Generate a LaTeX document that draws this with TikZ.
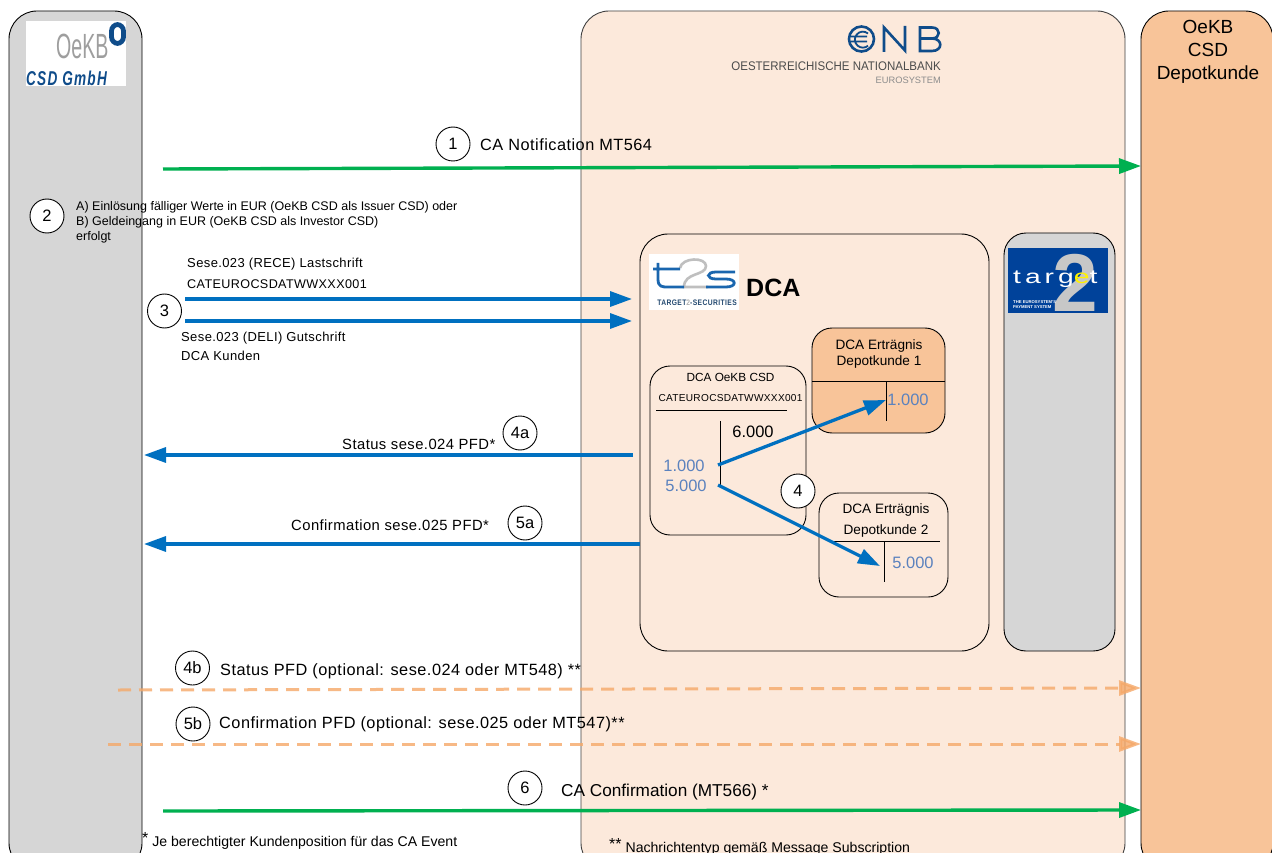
\documentclass[tikz,border=0pt]{standalone}
\usepackage{fontspec}
\setmainfont{Liberation Sans}
\newfontfamily\spaced[LetterSpace=3]{Liberation Sans}
\usetikzlibrary{arrows.meta}
\definecolor{panelgrey}{HTML}{D6D6D6}
\definecolor{panelpeach}{HTML}{FCE9DB}
\definecolor{panelorange}{HTML}{F8C499}
\definecolor{flowgreen}{HTML}{00B050}
\definecolor{flowblue}{HTML}{0070C0}
\definecolor{flowdash}{HTML}{F5A868}
\definecolor{amount}{HTML}{5B82BE}
\definecolor{logoblue}{HTML}{0F4C8A}
\definecolor{t2blue}{HTML}{00429A}
\definecolor{t2sblue}{HTML}{1A66AE}
\newcommand{\fsz}[1]{\fontsize{#1}{#1}\selectfont}
\tikzset{
  x=1pt,y=-1pt,
  box/.style={draw=black,line width=0.9pt,anchor=north west,inner sep=0pt,outer sep=0pt},
  num/.style={circle,draw=black,fill=white,line width=0.9pt,minimum size=34pt,inner sep=0pt,font=\fsz{16.5}},
  lab/.style={anchor=west,inner sep=0pt,font=\fsz{16.3}},
  labs/.style={anchor=west,inner sep=0pt,font=\fsz{13}},
  labm/.style={anchor=west,inner sep=0pt,font=\fsz{14.8}},
  small/.style={anchor=west,inner sep=0pt,font=\fsz{12.5}},
  val/.style={inner sep=0pt,text=amount,font=\fsz{16.5}},
  greenflow/.style={draw=flowgreen,line width=3.4pt,-{Triangle[length=22pt,width=15pt]}},
  blueflow/.style={draw=flowblue,line width=3.3pt,-{Triangle[length=22pt,width=15pt]}},
  dashflow/.style={draw=flowdash,draw opacity=0.8,fill opacity=0.8,line width=3pt,dash pattern=on 13pt off 8pt,-{Triangle[length=22pt,width=15pt]}},
  rule/.style={draw=black,line width=0.9pt},
}
\begin{document}
\begin{tikzpicture}
\clip (0,0) rectangle (1272,853);
\fill[white] (0,0) rectangle (1272,853);
% panels
\node[box,fill=panelgrey,rounded corners=28pt,minimum width=133pt,minimum height=860pt] (oekb) at (9,11) {};
\node[box,draw=black!75,fill=panelpeach,rounded corners=28pt,minimum width=544pt,minimum height=860pt] (onb) at (581,11) {};
\node[box,fill=panelorange,rounded corners=28pt,minimum width=132pt,minimum height=860pt] (kunde) at (1141,11) {};
\node[inner sep=0pt,font=\fsz{19},align=center,anchor=north] (kundet) at (1208,20) {OeKB\\[4pt]CSD\\[4pt]Depotkunde};
\node[box,fill=panelpeach,rounded corners=28pt,minimum width=349pt,minimum height=417pt] (dca) at (640,234) {};
\node[box,fill=panelgrey,rounded corners=22pt,minimum width=111pt,minimum height=418pt] (t2p) at (1004,233) {};
% OeKB logo
\node[fill=white,anchor=north west,minimum width=100pt,minimum height=65pt,inner sep=0pt] (oekblogo) at (26,21) {};
\node[inner sep=0pt,text=black!38,font=\fsz{35},anchor=west] (oekbname) at (56,46) {\scalebox{0.56}[1]{OeKB}};
\node[draw=logoblue,line width=4.8pt,rounded corners=6.5pt,minimum width=12pt,minimum height=19pt,inner sep=0pt] (oekbring) at (117.5,34) {};
\node[inner sep=0pt,text=logoblue,font=\fsz{20}\bfseries\itshape,anchor=west] (oekbcsd) at (26,78) {\scalebox{0.68}[1]{\addfontfeature{LetterSpace=9}CSD GmbH}};
% ONB logo
\node[circle,draw=logoblue,line width=2.6pt,minimum size=25pt,inner sep=0pt] (onbo) at (861.5,39) {};
\draw[logoblue,line width=1.8pt] (868,33.5) arc[start angle=50,end angle=310,radius=8pt] (851,36.5) -- (867,36.5) (851,41.5) -- (867,41.5);
\draw[logoblue,line width=2.6pt,line join=miter] (884,52) -- (884,27.5) -- (905,50.5) -- (905,26);
\draw[logoblue,line width=2.6pt] (920,38.5) -- (920,27.5) -- (932,27.5) .. controls (941,27.5) and (941,38.5) .. (932,38.5) -- (920,38.5) -- (920,51) -- (932,51) .. controls (943,51) and (943,38.5) .. (932,38.5);
\node[inner sep=0pt,text=black!70,font=\fsz{12.5},anchor=east] (onbname) at (941,65.7) {\scalebox{0.92}[1]{OESTERREICHISCHE NATIONALBANK}};
\node[inner sep=0pt,text=black!45,font=\fsz{9.3},anchor=east] (onbeuro) at (941,80) {EUROSYSTEM};
% t2s logo
\node[fill=white,anchor=north west,minimum width=90pt,minimum height=56pt,inner sep=0pt] (t2slogo) at (649,254) {};
\draw[black!25,line width=2.6pt] (680,268) .. controls (682,257) and (706,257) .. (706,266) .. controls (706,276) and (684,272) .. (684,287) -- (708,287);
\draw[t2sblue,line width=2.8pt] (658,263) -- (658,279) .. controls (658,287) and (662,287) .. (668,287) -- (684,287) (653,269) -- (680,269);
\draw[t2sblue,line width=2.8pt] (735,272) -- (716,272) .. controls (706,272) and (706,279) .. (716,279) -- (726,279) .. controls (737,279) and (737,287) .. (726,287) -- (706,287);
\node[inner sep=0pt,text=logoblue!70!black!90,font=\fsz{8}\bfseries] (t2stext) at (697,303) {\scalebox{0.84}[1]{\addfontfeature{LetterSpace=6}TARGET\textcolor{black!30}{2}-SECURITIES}};
\node[inner sep=0pt,font=\fsz{25}\bfseries,anchor=west] (dcat) at (746,288) {DCA};
% target2 logo
\node[fill=t2blue,anchor=north west,minimum width=100pt,minimum height=65pt,inner sep=0pt] (t2logo) at (1008,248) {};
\node[inner sep=0pt,text=black!22,font=\fsz{82}\bfseries] (t2two) at (1075,283) {2};
\node[inner sep=0pt,text=white,font=\fsz{19.5},anchor=west] (t2name) at (1013,279) {\scalebox{1.45}[1]{\addfontfeature{LetterSpace=14}targ\textcolor{yellow}{e}t}};
\node[inner sep=0pt,text=white,font=\fsz{4.2}\bfseries,align=left,anchor=west] (t2sub) at (1013,304.5) {THE EUROSYSTEM'S\\[1.2pt]PAYMENT SYSTEM};
% DCA sub accounts
\node[box,rounded corners=20pt,minimum width=156pt,minimum height=169pt] (csd) at (650,366) {};
\node[inner sep=0pt,font=\fsz{11.8}] (csdt) at (730.5,377) {DCA OeKB CSD};
\node[inner sep=0pt,font=\fsz{10.1}] (csdb) at (730.5,398) {\addfontfeature{LetterSpace=3}CATEUROCSDATWWXXX001};
\coordinate (csdr1) at (656,410); \coordinate (csdr2) at (787,410);
\draw[rule] (csdr1) -- (csdr2);
\coordinate (csdv1) at (720,421); \coordinate (csdv2) at (720,485);
\draw[rule] (csdv1) -- (csdv2);
\node[inner sep=0pt,font=\fsz{16.5}] (v6) at (753,432) {6.000};
\node[val] (v1) at (684,465.5) {1.000};
\node[val] (v5) at (686,485.5) {5.000};
\node[box,fill=panelorange,rounded corners=20pt,minimum width=133pt,minimum height=105pt] (d1) at (812,328) {};
\node[inner sep=0pt,font=\fsz{13.6},align=center] (d1t) at (879,354) {DCA Erträgnis\\[2pt]Depotkunde 1};
\coordinate (d1r1) at (812,381); \coordinate (d1r2) at (945,381);
\draw[rule] (d1r1) -- (d1r2);
\coordinate (d1v1) at (886,381); \coordinate (d1v2) at (886,421);
\draw[rule] (d1v1) -- (d1v2);
\node[val] (d1a) at (908,399.5) {1.000};
\node[box,rounded corners=20pt,minimum width=129pt,minimum height=104pt] (d2) at (819,493) {};
\node[inner sep=0pt,font=\fsz{13.6},align=center] (d2t) at (886,520.5) {DCA Erträgnis\\[7pt]Depotkunde 2};
\coordinate (d2r1) at (828,541); \coordinate (d2r2) at (940,541);
\draw[rule] (d2r1) -- (d2r2);
\coordinate (d2v1) at (884,542); \coordinate (d2v2) at (884,582);
\draw[rule] (d2v1) -- (d2v2);
\node[val] (d2a) at (913,563) {5.000};
\coordinate (f4as) at (718,465); \coordinate (f4ae) at (886,400);
\coordinate (f4bs) at (718,485); \coordinate (f4be) at (880,566);
\draw[blueflow] (f4as) -- (f4ae);
\draw[blueflow] (f4bs) -- (f4be);
\node[num] (n4) at (798,491) {4};
% flows
\coordinate (f1s) at (163,169); \coordinate (f1e) at (1141,166);
\draw[greenflow] (f1s) -- (f1e);
\node[num] (n1) at (453,144) {1};
\node[lab] (t1) at (480,145) {\spaced CA Notification MT564};
\node[num] (n2) at (47,216) {2};
\node[small,anchor=north west,align=left] (t2) at (76,201) {A) Einlösung fälliger Werte in EUR (OeKB CSD als Issuer CSD) oder\\[2.5pt]B) Geldeingang in EUR (OeKB CSD als Investor CSD)\\[2.5pt]erfolgt};
\coordinate (f3as) at (185,299); \coordinate (f3ae) at (632,299);
\coordinate (f3bs) at (185,321); \coordinate (f3be) at (632,321);
\draw[blueflow] (f3as) -- (f3ae);
\draw[blueflow] (f3bs) -- (f3be);
\node[num] (n3) at (164.5,311) {3};
\node[labs] (t3a) at (187,264) {\spaced Sese.023 (RECE) Lastschrift};
\node[labs,font=\fsz{12.6}] (t3b) at (187,284) {\spaced CATEUROCSDATWWXXX001};
\node[labs] (t3c) at (181,338) {\spaced Sese.023 (DELI) Gutschrift};
\node[labs] (t3d) at (181,356) {\spaced DCA Kunden};
\coordinate (f4s) at (633,455); \coordinate (f4e) at (144,455);
\draw[blueflow] (f4s) -- (f4e);
\node[num] (n4a) at (520,433) {4a};
\node[labm] (t4a) at (342,444) {\spaced Status sese.024 PFD*};
\coordinate (f5s) at (640,544); \coordinate (f5e) at (144,544);
\draw[blueflow] (f5s) -- (f5e);
\node[num] (n5a) at (525,523) {5a};
\node[labm] (t5a) at (291,525) {\spaced Confirmation sese.025 PFD*};
\coordinate (f4bbs) at (118,690); \coordinate (f4bbe) at (1141,688);
\draw[dashflow] (f4bbs) -- (f4bbe);
\node[num] (n4b) at (192.5,668) {4b};
\node[lab] (t4b) at (220,671) {\spaced Status PFD (optional: sese.024 oder MT548) **};
\coordinate (f5bs) at (108,744); \coordinate (f5be) at (1141,744);
\draw[dashflow] (f5bs) -- (f5be);
\node[num] (n5b) at (193,724) {5b};
\node[lab] (t5b) at (219,724) {\spaced Confirmation PFD (optional: sese.025 oder MT547)**};
\coordinate (f6s) at (163,811); \coordinate (f6e) at (1141,810);
\draw[greenflow] (f6s) -- (f6e);
\node[num] (n6) at (525,788) {6};
\node[lab,font=\fsz{17.2}] (t6) at (561,792.5) {CA Confirmation (MT566) *};
\node[inner sep=0pt,anchor=west,font=\fsz{14.1}] (fn1) at (142,841) {\raisebox{3pt}{\fsz{16}*} Je berechtigter Kundenposition für das CA Event};
\node[inner sep=0pt,anchor=west,font=\fsz{14.1}] (fn2) at (609,847) {\raisebox{3pt}{\fsz{16}**} Nachrichtentyp gemäß Message Subscription};
\end{tikzpicture}
\end{document}
